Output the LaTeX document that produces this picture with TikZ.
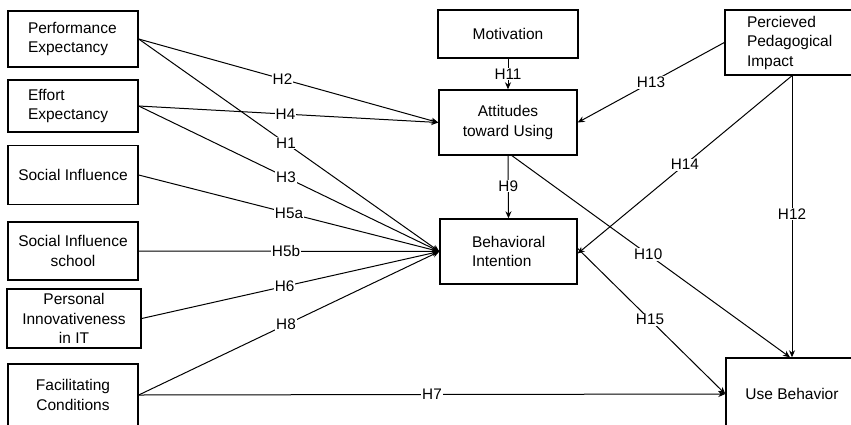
\documentclass[tikz,border=0pt]{standalone}
\usepackage{fontspec}
\setmainfont{Liberation Sans}
\usetikzlibrary{arrows.meta}
\begin{document}
\begin{tikzpicture}[x=1pt,y=-1pt,
  box/.style={draw=black, line width=1.4pt, inner sep=0pt,
    font=\fontsize{15.5}{19.5}\selectfont, align=center},
  leftbox/.style={box, align=left, inner xsep=#1},
  link/.style={line width=1pt, draw=black, -{Stealth[length=7pt,width=6pt]}},
  lab/.style={fill=white, inner sep=0.8pt, font=\fontsize{15.3}{18}\selectfont}]

\useasboundingbox (0,0) rectangle (851,424);
\clip (0,0) rectangle (851,424);

% constructs on the left
\node[leftbox=20pt, text width=90pt, minimum height=56pt] (PE) at (73,39)
  {Performance\\Expectancy};
\node[leftbox=20pt, text width=90pt, minimum height=52pt] (EE) at (73,106)
  {Effort\\Expectancy};
\node[box, minimum width=130pt, minimum height=59pt] (SI) at (73,175)
  {Social Influence};
\node[box, minimum width=130pt, minimum height=58pt] (SIS) at (73,251)
  {Social Influence\\school};
\node[box, minimum width=134pt, minimum height=59pt] (PII) at (74,318.5)
  {Personal\\Innovativeness\\in IT};
\node[box, minimum width=130pt, minimum height=62pt] (FC) at (73,395)
  {Facilitating\\Conditions};

% central constructs
\node[box, minimum width=140pt, minimum height=48pt] (MOT) at (508,34)
  {Motivation};
\node[box, minimum width=138pt, minimum height=65pt] (AT) at (508,122.5)
  {Attitudes\\toward Using};
\node[leftbox=32pt, text width=73pt, minimum height=65pt] (BI) at (508.5,251.5)
  {Behavioral\\Intention};

% constructs on the right
\node[leftbox=22pt, text width=90pt, minimum height=65pt] (PPI) at (792,42.5)
  {Percieved\\Pedagogical\\Impact};
\node[box, minimum width=132pt, minimum height=72pt] (UB) at (792,394)
  {Use Behavior};

% hypothesised paths
\draw[link] (PE.east) -- node[lab,pos=0.48] {H2} (AT.west);
\draw[link] (PE.east) -- node[lab,pos=0.49] {H1} (BI.west);
\draw[link] (EE.east) -- node[lab,pos=0.49] {H4} (AT.west);
\draw[link] (EE.east) -- node[lab,pos=0.49] {H3} (BI.west);
\draw[link] (SI.east) -- node[lab,pos=0.50] {H5a} (BI.west);
\draw[link] (SIS.east) -- node[lab,pos=0.49] {H5b} (BI.west);
\draw[link] (PII.east) -- node[lab,pos=0.48] {H6} (BI.west);
\draw[link] (FC.east) -- node[lab,pos=0.49] {H8} (BI.west);
\draw[link] (FC.east) -- node[lab,pos=0.50] {H7} (UB.west);

\draw[link] (MOT.south) -- node[lab] {H11} (AT.north);
\draw[link] (AT.south) -- node[lab,pos=0.48] {H9} (BI.north);
\draw[link] ([xshift=4pt]AT.south) -- node[lab,pos=0.49] {H10} ([xshift=-2pt]UB.north);

\draw[link] (PPI.west) -- node[lab,pos=0.5] {H13} (AT.east);
\draw[link] (PPI.south) -- node[lab,pos=0.5] {H14} ([yshift=-2pt]BI.east);
\draw[link] (PPI.south) -- node[lab,pos=0.49] {H12} (UB.north);
\draw[link] ([yshift=3pt]BI.east) -- node[lab,pos=0.49] {H15} (UB.west);

\end{tikzpicture}
\end{document}
